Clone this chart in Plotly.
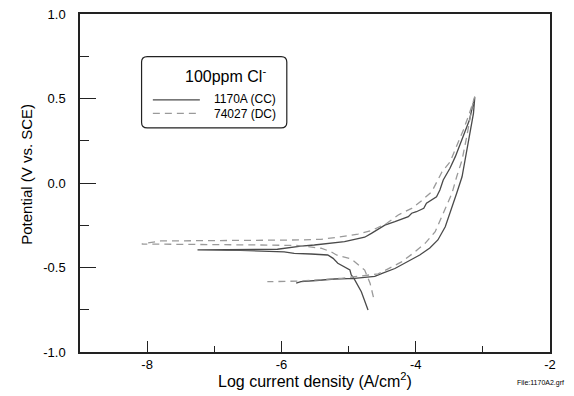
import plotly.graph_objects as go

# ---- data (log current density, potential V vs SCE) ----
cc_logi = [-4.71, -4.81, -4.92, -4.96, -4.98, -5.06, -5.16, -5.23, -5.31, -5.56, -5.81, -5.96, -6.61, -7.25,
           -6.61, -6.06, -5.71, -5.51, -5.06, -4.76, -4.66, -4.46, -4.31, -4.21, -4.11, -4.06, -3.99, -3.88,
           -3.84, -3.69, -3.64, -3.59, -3.49, -3.41, -3.34, -3.26, -3.20, -3.16, -3.12,
           -3.14, -3.19, -3.24, -3.31, -3.39, -3.49, -3.56, -3.67, -3.79, -3.94, -4.06, -4.21, -4.31, -4.51,
           -4.61, -4.91, -5.21, -5.48, -5.71, -5.78]
cc_pot = [-0.751, -0.643, -0.564, -0.544, -0.515, -0.495, -0.475, -0.446, -0.426, -0.420, -0.416, -0.407, -0.399, -0.396,
          -0.395, -0.392, -0.373, -0.367, -0.347, -0.321, -0.298, -0.249, -0.229, -0.215, -0.199, -0.179, -0.170, -0.150,
          -0.120, -0.081, -0.041, 0.018, 0.087, 0.156, 0.225, 0.304, 0.373, 0.442, 0.507,
          0.412, 0.294, 0.176, 0.037, -0.061, -0.170, -0.259, -0.337, -0.385, -0.426, -0.453, -0.482, -0.506, -0.536,
          -0.553, -0.564, -0.568, -0.577, -0.584, -0.593]

dc_logi = [-4.63, -4.68, -4.76, -4.96, -5.18, -5.26, -5.41, -5.75, -6.31, -7.20, -8.08,
           -7.80, -6.46, -5.71, -5.41, -5.16, -4.86, -4.66, -4.43, -4.26, -4.06, -3.91, -3.76, -3.61, -3.49,
           -3.37, -3.29, -3.20, -3.14, -3.12,
           -3.16, -3.24, -3.31, -3.39, -3.46, -3.59, -3.71, -3.86, -4.01, -4.21, -4.41, -4.56, -5.11, -5.41,
           -5.71, -6.21]
dc_pot = [-0.675, -0.593, -0.515, -0.450, -0.426, -0.407, -0.386, -0.370, -0.367, -0.363, -0.361,
          -0.343, -0.340, -0.337, -0.333, -0.321, -0.302, -0.282, -0.238, -0.189, -0.150, -0.104, -0.051, 0.065, 0.124,
          0.235, 0.314, 0.412, 0.491, 0.512,
          0.451, 0.274, 0.136, 0.037, -0.061, -0.179, -0.288, -0.357, -0.407, -0.467, -0.509, -0.538, -0.564, -0.574,
          -0.580, -0.584]

x_tickvals = [-8, -6, -4, -2]
x_ticktext = ["-8", "-6", "-4", "-2"]
y_tickvals = [-1.0, -0.5, 0.0, 0.5, 1.0]
y_ticktext = ["-1.0", "-0.5", "0.0", "0.5", "1.0"]

legend_title = "100ppm Cl<sup>-</sup>"
name_cc = "1170A (CC)"
name_dc = "74027 (DC)"

FONT = "Liberation Sans, Arial, sans-serif"
NARROW = "Liberation Sans Narrow, Arial Narrow, Liberation Sans, sans-serif"
SOLID_C = "#4a4a4a"
DASH_C = "#9a9a9a"

fig = go.Figure()
fig.add_trace(go.Scatter(x=cc_logi, y=cc_pot, mode="lines", name=name_cc,
                         line=dict(color=SOLID_C, width=1.3), showlegend=False))
fig.add_trace(go.Scatter(x=dc_logi, y=dc_pot, mode="lines", name=name_dc,
                         line=dict(color=DASH_C, width=1.3, dash="7px,5px"), showlegend=False))

# legend box (paper coords)
bx0, bx1, by0, by1 = 0.131, 0.440, 0.663, 0.874
rx, ry = 0.012, 0.016
path = (f"M {bx0+rx},{by1} L {bx1-rx},{by1} Q {bx1},{by1} {bx1},{by1-ry} "
        f"L {bx1},{by0+ry} Q {bx1},{by0} {bx1-rx},{by0} L {bx0+rx},{by0} "
        f"Q {bx0},{by0} {bx0},{by0+ry} L {bx0},{by1-ry} Q {bx0},{by1} {bx0+rx},{by1} Z")
shapes = [
    dict(type="path", xref="paper", yref="paper", path=path,
         line=dict(color="#222", width=1.2), fillcolor="white"),
    dict(type="line", xref="paper", yref="paper", x0=0.155, x1=0.255, y0=0.746, y1=0.746,
         line=dict(color=SOLID_C, width=1.3)),
    dict(type="line", xref="paper", yref="paper", x0=0.155, x1=0.255, y0=0.706, y1=0.706,
         line=dict(color=DASH_C, width=1.3, dash="7px,5px")),
]
annotations = [
    dict(text=legend_title, xref="paper", yref="paper", x=0.309, y=0.820, showarrow=False,
         xanchor="center", yanchor="middle", font=dict(family=FONT, size=16, color="black")),
    dict(text=name_cc, xref="paper", yref="paper", x=0.281, y=0.748, showarrow=False,
         xanchor="left", yanchor="middle", font=dict(family=NARROW, size=12, color="black")),
    dict(text=name_dc, xref="paper", yref="paper", x=0.281, y=0.704, showarrow=False,
         xanchor="left", yanchor="middle", font=dict(family=NARROW, size=12, color="black")),
    dict(text="Log current density (A/cm<sup>2</sup>)", xref="paper", yref="paper", x=0.5, y=-0.083,
         showarrow=False, xanchor="center", yanchor="middle", font=dict(family=FONT, size=16, color="black")),
    dict(text="Potential (V vs. SCE)", xref="paper", yref="paper", x=-0.113, y=0.527, textangle=-90,
         showarrow=False, xanchor="center", yanchor="middle", font=dict(family=NARROW, size=15, color="black")),
    dict(text="File:1170A2.grf", xref="paper", yref="paper", x=1.035, y=-0.092, showarrow=False,
         xanchor="right", yanchor="middle", font=dict(family=NARROW, size=7, color="black")),
]

fig.update_layout(
    width=566, height=388,
    margin=dict(l=72, r=24, t=6, b=44, autoexpand=False),
    plot_bgcolor="white", paper_bgcolor="white",
    shapes=shapes, annotations=annotations,
)
fig.update_xaxes(range=[-9, -2], tickvals=x_tickvals, ticktext=x_ticktext, automargin=False,
                 ticks="inside", ticklen=11, tickwidth=1.2, tickcolor="#222", ticklabeloverflow="allow",
                 minor=dict(tickvals=[-7, -5, -3], ticks="inside", ticklen=6, tickwidth=1.2, tickcolor="#222"),
                 showgrid=False, zeroline=False, showline=True, linecolor="#222", linewidth=1.5, mirror=True,
                 tickfont=dict(family=FONT, size=13, color="black"))
fig.update_yaxes(range=[-1.0, 1.0], tickvals=y_tickvals, ticktext=y_ticktext, automargin=False,
                 ticks="inside", ticklen=16, tickwidth=1.2, tickcolor="#222", ticklabeloverflow="allow",
                 minor=dict(tickvals=[-0.75, -0.25, 0.25, 0.75], ticks="inside", ticklen=9, tickwidth=1.2, tickcolor="#222"),
                 showgrid=False, zeroline=False, showline=True, linecolor="#222", linewidth=1.5, mirror=True,
                 ticklabelstandoff=10,
                 tickfont=dict(family=FONT, size=13, color="black"))

fig.write_html("out.html")
